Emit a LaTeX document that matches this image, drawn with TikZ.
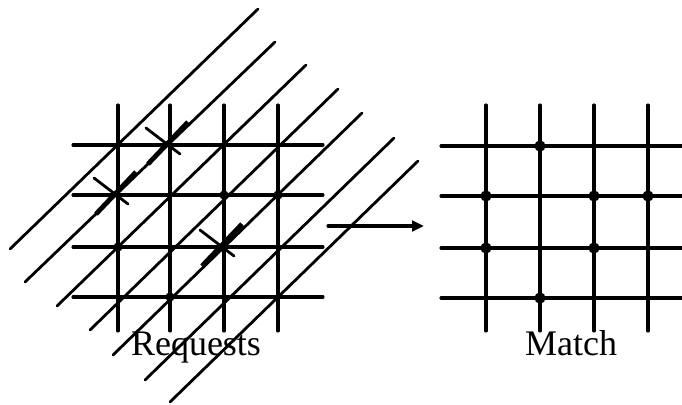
\documentclass[tikz,border=0pt]{standalone}
\usepackage{fontspec}
\setmainfont{Liberation Serif}
\usetikzlibrary{arrows.meta}
\begin{document}
\begin{tikzpicture}[x=0.75pt,y=-0.75pt, line cap=round,
  gridline/.style={line width=2.3pt},
  diagline/.style={line width=2.1pt},
  xstroke/.style={line width=2.1pt},
  xthick/.style={line width=3.6pt, line cap=butt},
  dotmark/.style={fill=black},
  lbl/.style={font=\fontsize{27}{30}\selectfont, anchor=base, inner sep=0pt}]
\useasboundingbox (0,0) rectangle (682,404);
\clip (0,0) rectangle (682,404);

% ---- left grid (Requests)
\foreach \x in {118,170,224,278} \draw[gridline] (\x,105) -- (\x,331);
\foreach \y in {145,195,247,297} \draw[gridline] (73,\y) -- (323,\y);

% ---- diagonal request lines
\draw[diagline] (10,249) -- (258,9);
\draw[diagline] (25,282) -- (275,42);
\draw[diagline] (57,306) -- (306,65);
\draw[diagline] (90,330) -- (338,89);
\draw[diagline] (113,355) -- (362,113);
\draw[diagline] (145,380) -- (394,138);
\draw[diagline] (170,402) -- (418,161);

% ---- dots on left grid
\foreach \p in {(170,297),(224,195),(278,195),(118,247)}
  \fill[dotmark] \p circle[radius=4.6];

% ---- crosses
\foreach \cx/\cy in {170/145,118/195,224/247}{
  \draw[xstroke] (\cx-24,\cy-17) -- (\cx+10,\cy+9);
  \draw[xthick] (\cx-22,\cy+19) -- (\cx+18,\cy-23);
}

% ---- arrow
\coordinate (arrS) at (328,226);
\coordinate (arrE) at (424,226);
\draw[line width=2.3pt, -{Triangle[length=9pt,width=8pt]}] (arrS) -- (arrE);

% ---- right grid (Match)
\foreach \x in {486,540,594,648} \draw[gridline] (\x,105) -- (\x,331);
\foreach \y in {146,196,248,298} \draw[gridline] (441,\y) -- (700,\y);
\foreach \p in {(540,146),(486,196),(594,196),(648,196),(486,248),(594,248),(540,298)}
  \fill[dotmark] \p circle[radius=5.6];

% ---- labels
\node[lbl] (req) at (196,355) {Requests};
\node[lbl] (match) at (571,355) {Match};
\end{tikzpicture}
\end{document}
